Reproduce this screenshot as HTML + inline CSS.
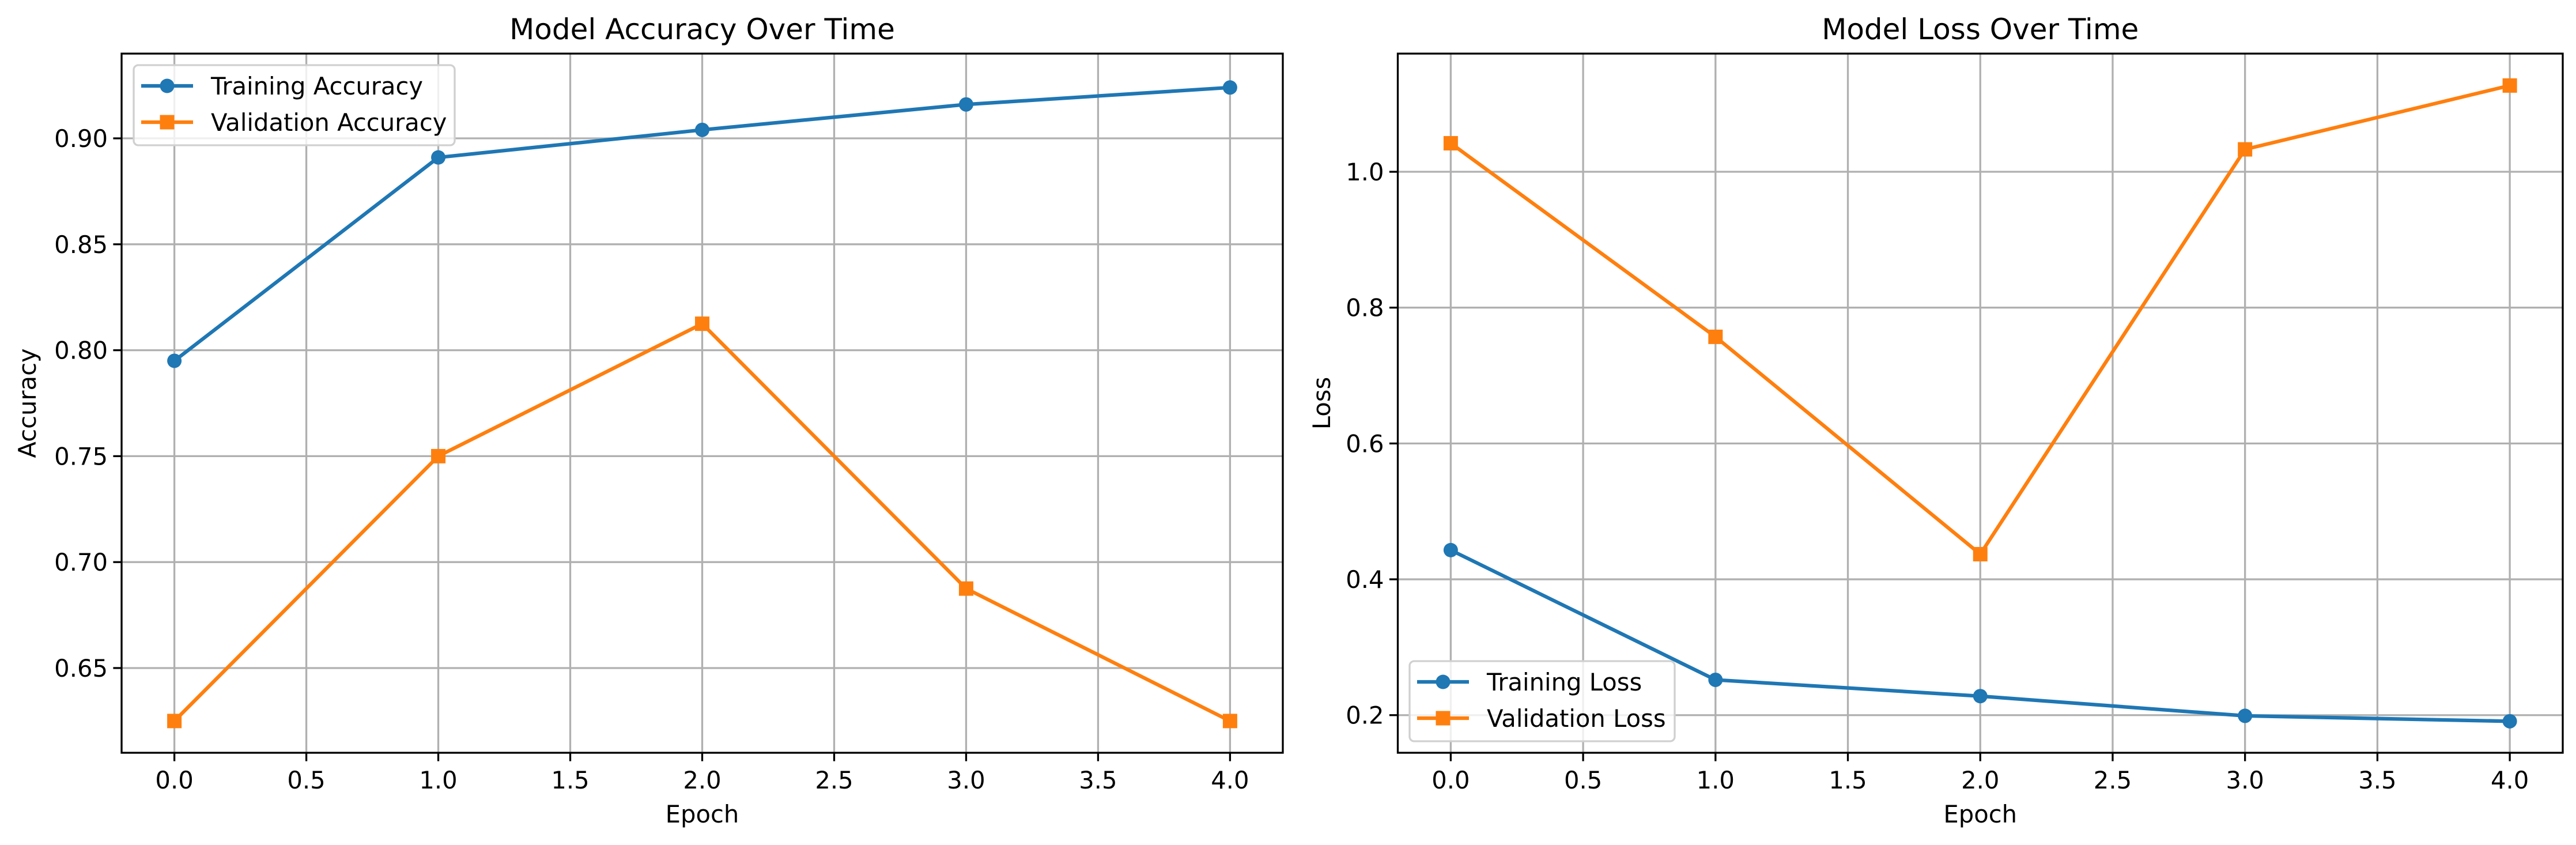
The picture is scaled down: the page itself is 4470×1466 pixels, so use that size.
<!DOCTYPE html>
<html><head><meta charset="utf-8"><style>
html,body{margin:0;padding:0;background:#fff}
svg{display:block;font-family:"DejaVu Sans","Liberation Sans",sans-serif}
</style></head><body>
<svg id="fig" width="4470" height="1466" viewBox="0 0 4470 1466" xmlns="http://www.w3.org/2000/svg"></svg>
<script>
const epochs = [0, 1, 2, 3, 4];
const trainAcc = [0.795, 0.891, 0.904, 0.916, 0.924];
const valAcc = [0.625, 0.75, 0.8125, 0.6875, 0.625];
const trainLoss = [0.443, 0.252, 0.228, 0.199, 0.191];
const valLoss = [1.042, 0.757, 0.437, 1.033, 1.127];
const xTicks = [0, 0.5, 1, 1.5, 2, 2.5, 3, 3.5, 4];
const xTickLabels = ["0.0","0.5","1.0","1.5","2.0","2.5","3.0","3.5","4.0"];
const accTicks = [0.65, 0.70, 0.75, 0.80, 0.85, 0.90];
const accTickLabels = ["0.65","0.70","0.75","0.80","0.85","0.90"];
const lossTicks = [0.2, 0.4, 0.6, 0.8, 1.0];
const lossTickLabels = ["0.2","0.4","0.6","0.8","1.0"];

const NS = "http://www.w3.org/2000/svg";
const fig = document.getElementById('fig');
const BLUE = "#1f77b4", ORANGE = "#ff7f0e";
function mk(tag, attrs, parent){
  const e = document.createElementNS(NS, tag);
  for (const k in attrs) e.setAttribute(k, attrs[k]);
  (parent||fig).appendChild(e);
  return e;
}
function panel(cfg){
  const g = mk('g', {});
  
  
  const L=cfg.left, R=cfg.right, T=93, B=1306;
  const xs = v => L + (v - (-0.2)) / 4.4 * (R - L);
  const ys = v => B - (v - cfg.ymin) / (cfg.ymax - cfg.ymin) * (B - T);
  xTicks.forEach((t,i)=>{
    const l = mk('line',{x1:xs(t),x2:xs(t),y1:T,y2:B,stroke:"#b0b0b0","stroke-width":3.3},g);
    
    
  });
  cfg.yTicks.forEach((t,i)=>{
    const l = mk('line',{x1:L,x2:R,y1:ys(t),y2:ys(t),stroke:"#b0b0b0","stroke-width":3.3},g);
    
    
  });
  cfg.series.forEach(s=>{
    const pts = epochs.map((e,i)=>xs(e)+","+ys(s.vals[i])).join(" ");
    const pl = mk('polyline',{points:pts,fill:"none",stroke:s.color,"stroke-width":6.25,"stroke-linejoin":"round"},g);
    
    
    epochs.forEach((e,i)=>{
      let m;
      if (s.marker==='o') m = mk('circle',{cx:xs(e),cy:ys(s.vals[i]),r:12.5,fill:s.color},g);
      else m = mk('rect',{x:xs(e)-12.5,y:ys(s.vals[i])-12.5,width:25,height:25,fill:s.color},g);
      
      
    });
  });
  const sp = mk('rect',{x:L,y:T,width:R-L,height:B-T,fill:"none",stroke:"#000","stroke-width":3.3},g);
  
  
  xTicks.forEach((t,i)=>{
    mk('line',{x1:xs(t),x2:xs(t),y1:B,y2:B+14.6,stroke:"#000","stroke-width":3.3},g);
    const tx = mk('text',{x:xs(t),y:1368,"font-size":41.7,"text-anchor":"middle",fill:"#000"},g);
    tx.textContent = xTickLabels[i];
    
    
  });
  cfg.yTicks.forEach((t,i)=>{
    mk('line',{x1:L-14.6,x2:L,y1:ys(t),y2:ys(t),stroke:"#000","stroke-width":3.3},g);
    const tx = mk('text',{x:L-24,y:ys(t)+15,"font-size":41.7,"text-anchor":"end",fill:"#000"},g);
    tx.textContent = cfg.yTickLabels[i];
    
    
  });
  const ti = mk('text',{x:(L+R)/2,y:68,"font-size":50,"text-anchor":"middle",fill:"#000"},g);
  ti.textContent = cfg.title;
  
  
  const xl = mk('text',{x:(L+R)/2,y:1427,"font-size":41.7,"text-anchor":"middle",fill:"#000"},g);
  xl.textContent = "Epoch";
  
  
  const yl = mk('text',{x:0,y:0,"font-size":41.7,"text-anchor":"middle",fill:"#000",transform:`translate(${cfg.ylabelX},${(T+B)/2}) rotate(-90)`},g);
  yl.textContent = cfg.ylabel;
  
  
  const lg = mk('g',{},g);
  
  
  const lx = cfg.legend.x, ly = cfg.legend.y;
  mk('rect',{x:lx,y:ly,width:cfg.legend.w,height:139,rx:8,fill:"#fff","fill-opacity":0.8,stroke:"#d0d0d0","stroke-width":3.3},lg);
  cfg.series.forEach((s,i)=>{
    const ry = ly + 36 + i*63;
    const en = mk('g',{},lg);
    
    
    mk('line',{x1:lx+13,x2:lx+103,y1:ry,y2:ry,stroke:s.color,"stroke-width":6.25},en);
    if (s.marker==='o') mk('circle',{cx:lx+58,cy:ry,r:12.5,fill:s.color},en);
    else mk('rect',{x:lx+45.5,y:ry-12.5,width:25,height:25,fill:s.color},en);
    const t = mk('text',{x:lx+134,y:ry+15,"font-size":41.7,fill:"#000"},en);
    t.textContent = s.label;
  });
}
panel({name:'accuracy-panel',left:211,right:2226,ymin:0.61,ymax:0.94,
  yTicks:accTicks,yTickLabels:accTickLabels,title:"Model Accuracy Over Time",ylabel:"Accuracy",ylabelX:62,
  legend:{x:232,y:113,w:557},
  series:[{name:'training-accuracy',label:'Training Accuracy',vals:trainAcc,color:BLUE,marker:'o'},
          {name:'validation-accuracy',label:'Validation Accuracy',vals:valAcc,color:ORANGE,marker:'s'}]});
panel({name:'loss-panel',left:2425.5,right:4447,ymin:0.1446,ymax:1.174,
  yTicks:lossTicks,yTickLabels:lossTickLabels,title:"Model Loss Over Time",ylabel:"Loss",ylabelX:2308,
  legend:{x:2446,y:1147,w:460},
  series:[{name:'training-loss',label:'Training Loss',vals:trainLoss,color:BLUE,marker:'o'},
          {name:'validation-loss',label:'Validation Loss',vals:valLoss,color:ORANGE,marker:'s'}]});
</script>
</body></html>
